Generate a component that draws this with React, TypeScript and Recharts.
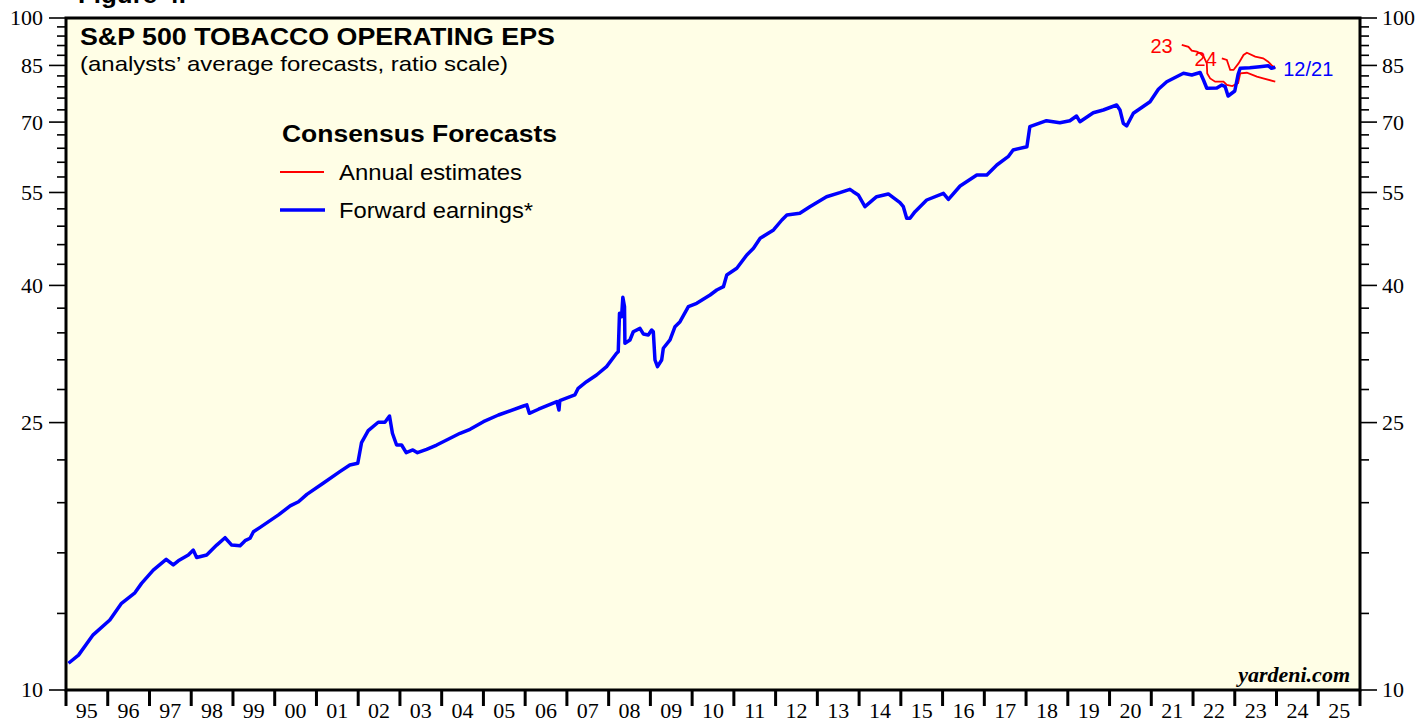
import { LineChart, Line, XAxis, YAxis, ReferenceArea, LabelList } from 'recharts';

// forward earnings (blue), dates as decimal years
const fwdDates = [
  1995.06, 1995.3, 1995.65, 1996.05, 1996.33, 1996.65, 1996.81, 1997.09, 1997.4, 1997.57,
  1997.69, 1997.93, 1998.05, 1998.13, 1998.37, 1998.61, 1998.81, 1998.97, 1999.17, 1999.29,
  1999.41, 1999.49, 1999.65, 2000.09, 2000.37, 2000.57, 2000.77, 2001.16, 2001.56, 2001.8,
  2001.99, 2002.08, 2002.24, 2002.48, 2002.64, 2002.75, 2002.82, 2002.92, 2003.04, 2003.15,
  2003.31, 2003.42, 2003.64, 2003.88, 2004.12, 2004.44, 2004.68, 2005.0, 2005.36, 2005.96,
  2006.04, 2006.1, 2006.32, 2006.76, 2006.81, 2006.83, 2007.19, 2007.27, 2007.47, 2007.71,
  2007.95, 2008.19, 2008.23, 2008.26, 2008.31, 2008.34, 2008.38, 2008.39, 2008.51, 2008.59,
  2008.75, 2008.83, 2008.95, 2009.03, 2009.07, 2009.11, 2009.17, 2009.27, 2009.31, 2009.47,
  2009.59, 2009.71, 2009.91, 2010.11, 2010.43, 2010.59, 2010.75, 2010.83, 2011.07, 2011.31,
  2011.47, 2011.63, 2011.95, 2012.15, 2012.27, 2012.58, 2012.82, 2013.22, 2013.54, 2013.78,
  2013.86, 2013.98, 2014.14, 2014.42, 2014.7, 2014.98, 2015.06, 2015.14, 2015.22, 2015.34,
  2015.62, 2016.02, 2016.14, 2016.42, 2016.82, 2017.06, 2017.3, 2017.57, 2017.69, 2018.02,
  2018.09, 2018.49, 2018.81, 2019.05, 2019.21, 2019.29, 2019.61, 2019.85, 2020.17, 2020.25,
  2020.33, 2020.41, 2020.57, 2020.97, 2021.17, 2021.37, 2021.77, 2021.97, 2022.17, 2022.25,
  2022.33, 2022.57, 2022.69, 2022.77, 2022.84, 2023.0, 2023.08, 2023.13, 2023.36, 2023.6,
  2023.8, 2023.88, 2023.97,
];
const fwdValues = [
  10.96, 11.27, 12.08, 12.71, 13.46, 13.95, 14.41, 15.08, 15.65, 15.35,
  15.57, 15.88, 16.15, 15.75, 15.88, 16.43, 16.85, 16.43, 16.39, 16.68,
  16.82, 17.2, 17.46, 18.22, 18.79, 19.06, 19.55, 20.31, 21.13, 21.62,
  21.75, 23.34, 24.32, 25.03, 25.03, 25.57, 24.1, 23.15, 23.15, 22.55,
  22.76, 22.55, 22.81, 23.15, 23.55, 24.1, 24.43, 25.08, 25.66, 26.46,
  26.56, 25.81, 26.17, 26.86, 26.1, 26.95, 27.48, 28.12, 28.76, 29.43,
  30.28, 31.7, 31.87, 36.36, 35.94, 38.41, 37.19, 32.8, 33.18, 34.13,
  34.53, 33.87, 33.75, 34.33, 34.13, 30.98, 30.28, 30.98, 32.25, 33.18,
  34.73, 35.33, 37.19, 37.62, 38.71, 39.38, 39.83, 41.46, 42.42, 44.4,
  45.43, 47.01, 48.37, 50.05, 50.92, 51.22, 52.39, 54.21, 54.96, 55.6,
  55.15, 54.53, 52.39, 54.21, 54.72, 53.11, 52.39, 50.34, 50.34, 51.5,
  53.6, 54.85, 53.73, 56.23, 58.39, 58.39, 60.43, 62.17, 63.62, 64.34,
  68.9, 70.33, 69.85, 70.33, 71.47, 70.09, 72.29, 72.96, 74.22, 72.96,
  69.71, 69.07, 72.14, 75.06, 78.33, 80.39, 82.74, 82.26, 82.97, 80.86,
  78.6, 78.68, 79.49, 79.03, 76.55, 77.87, 82.46, 84.17, 84.35, 84.64,
  84.93, 84.17, 84.46,
];

// annual estimates (red)
const est23Dates = [
  2021.73, 2021.89, 2021.97, 2022.09, 2022.17, 2022.26, 2022.33, 2022.34, 2022.41, 2022.53,
  2022.73, 2022.81, 2022.94, 2023.08, 2023.13, 2023.29, 2023.53, 2023.68, 2023.97,
];
const est23Values = [
  91.2, 90.6, 89.4, 89.1, 88.6, 87.5, 85.6, 82.7, 81.3, 80.4,
  80.4, 79.5, 79.2, 80.0, 82.7, 82.9, 81.8, 81.3, 80.4,
];
const est24Dates = [
  2022.69, 2022.81, 2022.89, 2022.97, 2023.09, 2023.21, 2023.29, 2023.49, 2023.68, 2023.8,
  2023.88, 2023.97,
];
const est24Values = [87.1, 86.6, 83.7, 83.7, 85.6, 88.1, 88.8, 87.6, 87.1, 86.1, 85.1, 84.2];

const yMajor = [10, 25, 40, 55, 70, 85, 100];
const yMinor = [
  13, 16, 19, 22, 28, 31, 34, 37, 43, 46, 49, 52, 58, 61, 64, 67, 73, 76, 79, 82, 88, 91, 94, 97,
];
const yearLabels = [
  '95', '96', '97', '98', '99', '00', '01', '02', '03', '04', '05', '06', '07', '08', '09', '10',
  '11', '12', '13', '14', '15', '16', '17', '18', '19', '20', '21', '22', '23', '24', '25',
];

const FIRST_YEAR = 1995;
const yearStarts = [...yearLabels.map((_, i) => FIRST_YEAR + i), FIRST_YEAR + yearLabels.length];
const yearMids = yearLabels.map((_, i) => FIRST_YEAR + i + 0.5);
const xTicks = [...yearStarts, ...yearMids].sort((a, b) => a - b);
const yTicks = [...yMajor, ...yMinor].sort((a, b) => a - b);

const toSeries = (dates: number[], values: number[]) =>
  dates.map((t, i) => ({ t, v: values[i] }));
const fwdData = toSeries(fwdDates, fwdValues);
const est23Data = toSeries(est23Dates, est23Values);
const est24Data = toSeries(est24Dates, est24Values);

const SANS = "'Liberation Sans', Arial, Helvetica, sans-serif";
const SERIF = "'Liberation Serif', 'Times New Roman', serif";
const BG = '#fffee6';

const LeftTick = (props: any) => {
  const { x, y, payload } = props;
  const major = yMajor.includes(payload.value);
  return (
    <g>
      <line x1={x} x2={x - (major ? 17 : 9)} y1={y} y2={y} stroke="#000" strokeWidth={1.6} />
      {major && (
        <text x={x - 23} y={y} dy="0.34em" textAnchor="end" fontFamily={SERIF} fontSize={22} fill="#000">
          {payload.value}
        </text>
      )}
    </g>
  );
};

const RightTick = (props: any) => {
  const { x, y, payload } = props;
  const major = yMajor.includes(payload.value);
  return (
    <g>
      <line x1={x} x2={x + (major ? 17 : 9)} y1={y} y2={y} stroke="#000" strokeWidth={1.6} />
      {major && (
        <text x={x + 22} y={y} dy="0.34em" textAnchor="start" fontFamily={SERIF} fontSize={22} fill="#000">
          {payload.value}
        </text>
      )}
    </g>
  );
};

const YearTick = (props: any) => {
  const { x, y, payload } = props;
  const v = payload.value as number;
  if (Number.isInteger(v)) {
    return <line x1={x} x2={x} y1={y} y2={y + 16} stroke="#000" strokeWidth={3} />;
  }
  const label = yearLabels[Math.floor(v) - FIRST_YEAR];
  return (
    <text x={x} y={y + 28} textAnchor="middle" fontFamily={SERIF} fontSize={22} fill="#000">
      {label}
    </text>
  );
};

// text placed next to the first or last point of a series
const endLabel =
  (text: string, color: string, which: 'first' | 'last', count: number, dx: number, dy: number) =>
  (p: any) => {
    const idx = which === 'first' ? 0 : count - 1;
    if (p.index !== idx) return null;
    const px = p.x ?? p.viewBox?.x;
    const py = p.y ?? p.viewBox?.y;
    return (
      <text
        x={px + dx}
        y={py + dy}
        dy="0.35em"
        textAnchor={which === 'first' ? 'end' : 'start'}
        fontFamily={SANS}
        fontSize={20}
        fill={color}
      >
        {text}
      </text>
    );
  };

export default function App() {
  return (
    <div
      style={{
        position: 'absolute',
        left: 0,
        top: 0,
        width: 1416,
        height: 719,
        background: '#fff',
        overflow: 'hidden',
      }}
    >
      <LineChart width={1416} height={719} margin={{ top: 18, right: 0, bottom: 0, left: 6 }}>
        <XAxis
          dataKey="t"
          type="number"
          domain={[1995, 2026]}
          ticks={xTicks}
          interval={0}
          allowDataOverflow
          axisLine={false}
          tickLine={false}
          tickSize={0}
          tickMargin={0}
          height={29}
          tick={<YearTick />}
        />
        <YAxis
          yAxisId="left"
          scale="log"
          type="number"
          domain={[10, 100]}
          ticks={yTicks}
          interval={0}
          allowDataOverflow
          axisLine={false}
          tickLine={false}
          tickSize={0}
          tickMargin={0}
          width={60}
          tick={<LeftTick />}
        />
        <YAxis
          yAxisId="right"
          orientation="right"
          scale="log"
          type="number"
          domain={[10, 100]}
          ticks={yTicks}
          interval={0}
          allowDataOverflow
          axisLine={false}
          tickLine={false}
          tickSize={0}
          tickMargin={0}
          width={56}
          tick={<RightTick />}
        />
        <ReferenceArea
          yAxisId="left"
          x1={1995}
          x2={2026}
          y1={10}
          y2={100}
          fill={BG}
          fillOpacity={1}
          stroke="#000"
          strokeWidth={3}
        />
        <Line
          yAxisId="left"
          data={est23Data}
          dataKey="v"
          type="linear"
          stroke="#ff0000"
          strokeWidth={1.8}
          dot={false}
          isAnimationActive={false}
        >
          <LabelList dataKey="v" content={endLabel('23', '#ff0000', 'first', est23Data.length, -9, 1.5)} />
        </Line>
        <Line
          yAxisId="left"
          data={est24Data}
          dataKey="v"
          type="linear"
          stroke="#ff0000"
          strokeWidth={1.8}
          dot={false}
          isAnimationActive={false}
        >
          <LabelList dataKey="v" content={endLabel('24', '#ff0000', 'first', est24Data.length, -5, 0.5)} />
        </Line>
        <Line
          yAxisId="left"
          data={fwdData}
          dataKey="v"
          type="linear"
          stroke="#0000ff"
          strokeWidth={3.5}
          strokeLinejoin="round"
          dot={false}
          isAnimationActive={false}
        >
          <LabelList dataKey="v" content={endLabel('12/21', '#0000ff', 'last', fwdData.length, 8, 2)} />
        </Line>
      </LineChart>

      {/* titles, legend and source */}
      <svg
        width={1416}
        height={719}
        style={{ position: 'absolute', left: 0, top: 0, pointerEvents: 'none' }}
      >
        <text x={78} y={3} fontFamily={SANS} fontWeight="bold" fontSize={24} textLength={108} lengthAdjust="spacingAndGlyphs">
          Figure 4.
        </text>
        <text x={80} y={45} fontFamily={SANS} fontWeight="bold" fontSize={23} textLength={475} lengthAdjust="spacingAndGlyphs">
          S&amp;P 500 TOBACCO OPERATING EPS
        </text>
        <text x={80} y={71} fontFamily={SANS} fontSize={21} textLength={428} lengthAdjust="spacingAndGlyphs">
          (analysts’ average forecasts, ratio scale)
        </text>
        <text x={282} y={142} fontFamily={SANS} fontWeight="bold" fontSize={23} textLength={275} lengthAdjust="spacingAndGlyphs">
          Consensus Forecasts
        </text>
        <line x1={280} x2={324} y1={172} y2={172} stroke="#ff0000" strokeWidth={1.8} />
        <text x={339} y={180} fontFamily={SANS} fontSize={22} textLength={183} lengthAdjust="spacingAndGlyphs">
          Annual estimates
        </text>
        <line x1={280} x2={325} y1={210} y2={210} stroke="#0000ff" strokeWidth={3.5} />
        <text x={339} y={218} fontFamily={SANS} fontSize={22} textLength={194} lengthAdjust="spacingAndGlyphs">
          Forward earnings*
        </text>
        <text x={1350} y={682} textAnchor="end" fontFamily={SERIF} fontWeight="bold" fontStyle="italic" fontSize={22}>
          yardeni.com
        </text>
      </svg>
    </div>
  );
}
